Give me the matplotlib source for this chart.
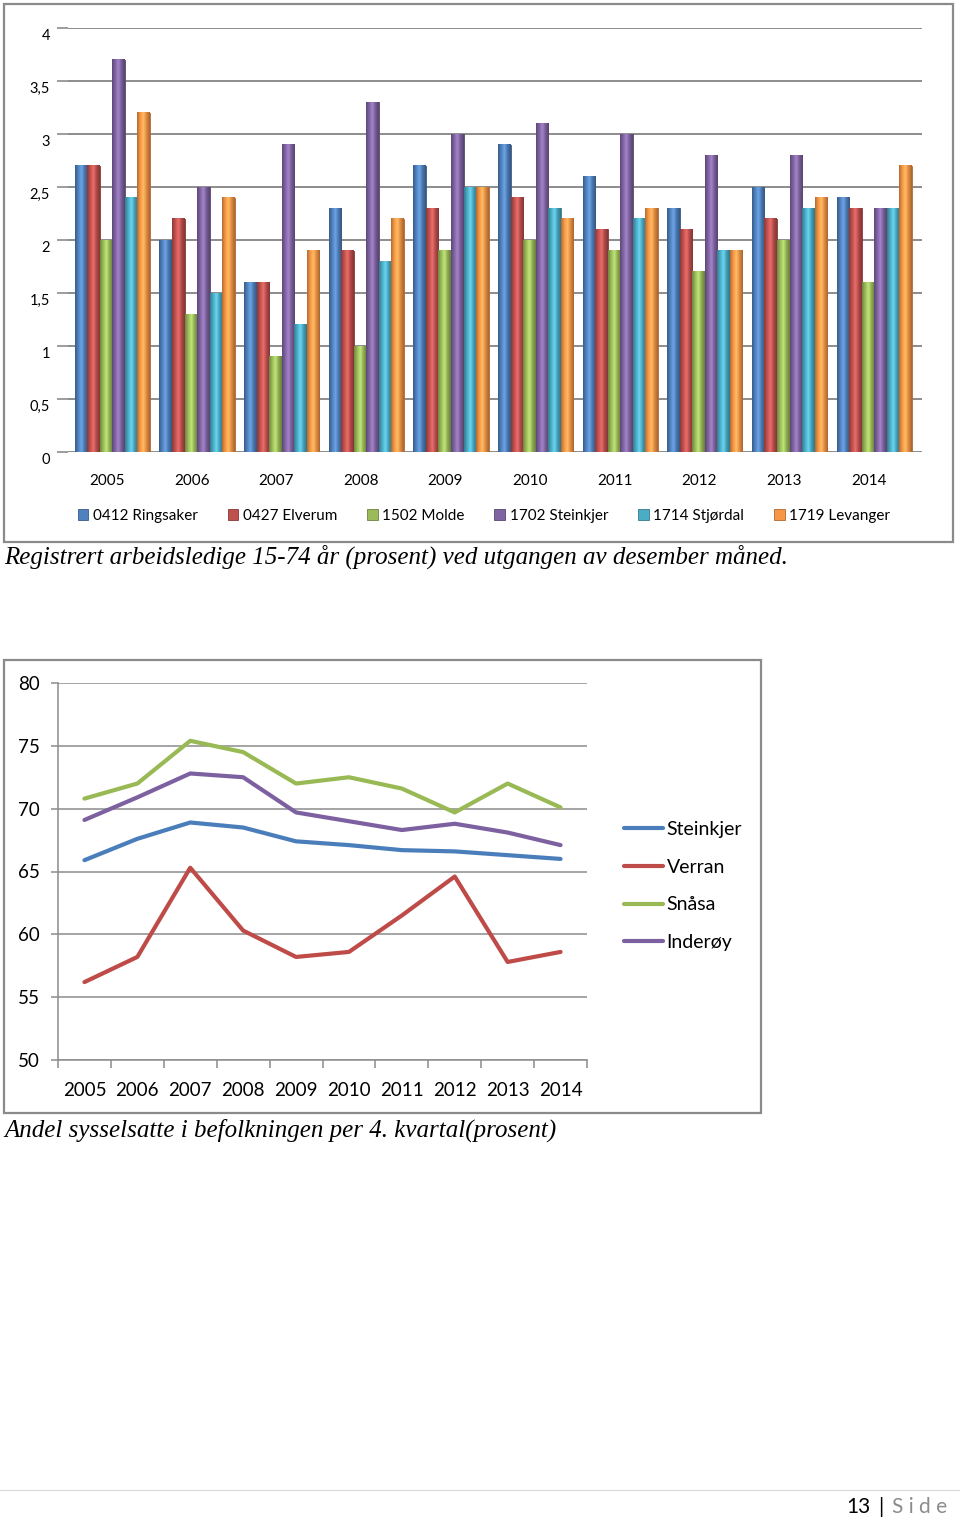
import numpy as np
import matplotlib
matplotlib.use('Agg')
import matplotlib.pyplot as plt
from matplotlib.colors import LinearSegmentedColormap, to_rgb
from matplotlib.patches import Rectangle
from matplotlib.lines import Line2D
from matplotlib.ticker import FuncFormatter, FixedLocator
from matplotlib.transforms import ScaledTranslation

# --- data: registrert arbeidsledige (prosent) ---
years = ['2005', '2006', '2007', '2008', '2009', '2010', '2011', '2012', '2013', '2014']
bar_names = ['0412 Ringsaker', '0427 Elverum', '1502 Molde',
             '1702 Steinkjer', '1714 Stjørdal', '1719 Levanger']
ringsaker = [2.7, 2.0, 1.6, 2.3, 2.7, 2.9, 2.6, 2.3, 2.5, 2.4]
elverum = [2.7, 2.2, 1.6, 1.9, 2.3, 2.4, 2.1, 2.1, 2.2, 2.3]
molde = [2.0, 1.3, 0.9, 1.0, 1.9, 2.0, 1.9, 1.7, 2.0, 1.6]
steinkjer_l = [3.7, 2.5, 2.9, 3.3, 3.0, 3.1, 3.0, 2.8, 2.8, 2.3]
stjordal = [2.4, 1.5, 1.2, 1.8, 2.5, 2.3, 2.2, 1.9, 2.3, 2.3]
levanger = [3.2, 2.4, 1.9, 2.2, 2.5, 2.2, 2.3, 1.9, 2.4, 2.7]
bar_series = [ringsaker, elverum, molde, steinkjer_l, stjordal, levanger]
bar_colors = ['#4F81BD', '#C0504D', '#9BBB59', '#8064A2', '#4BACC6', '#F79646']
bar_yticks = [0, 0.5, 1, 1.5, 2, 2.5, 3, 3.5, 4]

# --- data: andel sysselsatte (prosent) ---
line_names = ['Steinkjer', 'Verran', 'Snåsa', 'Inderøy']
steinkjer = [65.9, 67.6, 68.9, 68.5, 67.4, 67.1, 66.7, 66.6, 66.3, 66.0]
verran = [56.2, 58.2, 65.3, 60.3, 58.2, 58.6, 61.5, 64.6, 57.8, 58.6]
snasa = [70.8, 72.0, 75.4, 74.5, 72.0, 72.5, 71.6, 69.7, 72.0, 70.1]
inderoy = [69.1, 70.9, 72.8, 72.5, 69.7, 69.0, 68.3, 68.8, 68.1, 67.1]
line_series = [steinkjer, verran, snasa, inderoy]
line_colors = ['#4A7EBB', '#BE4B48', '#98B954', '#7D60A0']
line_yticks = [50, 55, 60, 65, 70, 75, 80]

W, H = 960, 1521
fig = plt.figure(figsize=(W / 100, H / 100), dpi=100)
plt.rcParams['font.family'] = ['Lato', 'DejaVu Sans']


def box(l, t, r, b):
    return [l / W, 1 - b / H, (r - l) / W, (b - t) / H]


def frame(l, t, r, b):
    fig.patches.append(Rectangle((l / W, 1 - b / H), (r - l) / W, (b - t) / H,
                                 transform=fig.transFigure, fill=False,
                                 edgecolor='#8a8a8a', linewidth=1.6))


comma = FuncFormatter(lambda v, p: ('%g' % v).replace('.', ','))

# ---------------- bar chart ----------------
frame(4, 4, 953, 542)
ax = fig.add_axes(box(68, 28, 922, 452))
x = np.arange(len(years))
n = len(bar_series)
bw = 0.148
for i, (vals, col) in enumerate(zip(bar_series, bar_colors)):
    pos = x + 0.065 + (i - (n - 1) / 2) * bw
    bars = ax.bar(pos, vals, bw, color=col, edgecolor=np.array(to_rgb(col)) * 0.7,
                  linewidth=0.6, label=bar_names[i], zorder=3)
    base = np.array(to_rgb(col))
    cmap = LinearSegmentedColormap.from_list(
        'c', [base * 0.72, base, np.minimum(base * 1.12 + 0.08, 1), base * 0.9, base * 0.68])
    grad = np.linspace(0, 1, 64).reshape(1, -1)
    for b in bars:
        ax.imshow(grad, cmap=cmap, aspect='auto', zorder=4,
                  extent=(b.get_x(), b.get_x() + b.get_width(), 0, b.get_height()))
ax.set_xlim(-0.46, 9.63)
ax.set_ylim(0, 4)
ax.set_yticks(bar_yticks)
ax.yaxis.set_major_formatter(comma)
ax.set_xticks(x)
ax.set_xticklabels(years)
ax.grid(axis='y', color='#8c8c8c', linewidth=1.4, zorder=0)
for s in ax.spines.values():
    s.set_visible(False)
ax.tick_params(axis='y', length=8, color='#8c8c8c', width=1.2, labelsize=10.5, pad=5)
ax.tick_params(axis='x', length=0, labelsize=11, pad=16)
shift = ScaledTranslation(0, -6 / 100, fig.dpi_scale_trans)
for lab in ax.get_yticklabels():
    lab.set_transform(lab.get_transform() + shift)
ax.legend(loc='center', bbox_to_anchor=(0.487, -0.15), ncol=6, frameon=False,
          fontsize=11, handlelength=0.7, handleheight=0.7, handletextpad=0.3,
          columnspacing=1.95)

fig.text(4 / W, 1 - 557 / H,
         'Registrert arbeidsledige 15-74 år (prosent) ved utgangen av desember måned.',
         family='Liberation Serif', style='italic', fontsize=18, va='center', ha='left')

# ---------------- line chart ----------------
frame(4, 660, 761, 1113)
ax2 = fig.add_axes(box(58, 683, 587, 1060))
for vals, col, name in zip(line_series, line_colors, line_names):
    ax2.plot(x, vals, color=col, linewidth=3, label=name, solid_capstyle='round', zorder=3)
ax2.set_xlim(-0.5, 9.5)
ax2.set_ylim(50, 80)
ax2.set_yticks(line_yticks)
ax2.set_xticks(x)
ax2.set_xticklabels(years)
ax2.xaxis.set_minor_locator(FixedLocator(np.arange(-0.5, 10, 1)))
ax2.grid(axis='y', color='#8c8c8c', linewidth=1.1, zorder=0)
for s in ['top', 'right']:
    ax2.spines[s].set_visible(False)
for s in ['left', 'bottom']:
    ax2.spines[s].set_color('#8c8c8c')
    ax2.spines[s].set_linewidth(1.1)
ax2.tick_params(axis='x', which='major', length=0, labelsize=13.5, pad=16)
ax2.tick_params(axis='x', which='minor', length=6, color='#8c8c8c', width=1.1)
ax2.tick_params(axis='y', length=5, color='#8c8c8c', width=1.1, labelsize=13.5, pad=8)
ax2.legend(loc='upper left', bbox_to_anchor=((616 - 58) / 529, (1060 - 813) / 377),
           frameon=False, fontsize=14, handlelength=2.0, handletextpad=0.2,
           labelspacing=1.07, borderaxespad=0)

fig.text(4 / W, 1 - 1130 / H,
         'Andel sysselsatte i befolkningen per 4. kvartal(prosent)',
         family='Liberation Serif', style='italic', fontsize=18, va='center', ha='left')

# ---------------- footer ----------------
fig.add_artist(Line2D([0, 1], [1 - 1490 / H] * 2, color='#d9d9d9', linewidth=0.8))
fig.text(871 / W, 1 - 1507 / H, '13', fontsize=15, ha='right', va='center')
fig.text(881 / W, 1 - 1507 / H, '|', fontsize=15, ha='center', va='center')
fig.text(892 / W, 1 - 1507 / H, 'S i d e', fontsize=15, ha='left', va='center',
         color='#8c8c8c')

fig.savefig('out.png', dpi=100)
